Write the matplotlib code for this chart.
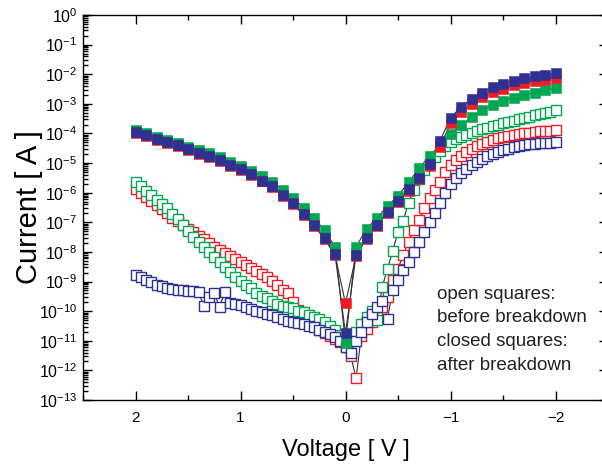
import numpy as np
import matplotlib
matplotlib.use("Agg")
import matplotlib.pyplot as plt
from matplotlib.ticker import LogLocator, MultipleLocator, NullFormatter

plt.rcParams['font.family'] = ['Liberation Sans', 'DejaVu Sans']
plt.rcParams['mathtext.fontset'] = 'custom'
plt.rcParams['mathtext.rm'] = 'Liberation Sans'

# voltages: closed squares every 0.1 V, open squares every 0.05 V (2 V -> -2 V)
v_closed = np.round(np.linspace(2, -2, 41), 2)
v_open = np.round(np.linspace(2, -2, 81), 3)

# log10(current) after breakdown (closed squares)
blue_closed = [-3.94, -4.05, -4.18, -4.29, -4.39, -4.53, -4.65, -4.76, -4.90, -5.06,
               -5.21, -5.38, -5.59, -5.79, -6.07, -6.36, -6.72, -7.09, -7.53, -8.08,
               -10.75,
               -8.11, -7.52, -7.09, -6.64, -6.27, -5.89, -5.52, -5.03, -4.25, -3.47,
               -3.10, -2.82, -2.62, -2.44, -2.33, -2.22, -2.14, -2.06, -2.03, -1.97]
red_closed = [-3.97, -4.08, -4.21, -4.32, -4.42, -4.56, -4.68, -4.79, -4.93, -5.09,
              -5.24, -5.41, -5.62, -5.82, -6.10, -6.39, -6.75, -7.12, -7.56, -8.11,
              -9.74,
              -8.13, -7.55, -7.12, -6.68, -6.32, -5.93, -5.55, -5.10, -4.45, -3.66,
              -3.28, -3.00, -2.78, -2.60, -2.49, -2.38, -2.30, -2.22, -2.18, -2.12]
green_closed = [-3.88, -3.99, -4.11, -4.22, -4.32, -4.45, -4.57, -4.67, -4.81, -4.96,
                -5.10, -5.26, -5.45, -5.64, -5.90, -6.17, -6.50, -6.85, -7.27, -7.82,
                -11.06,
                -7.83, -7.22, -6.85, -6.45, -6.10, -5.65, -5.18, -4.75, -4.40, -4.02,
                -3.72, -3.46, -3.21, -3.04, -2.89, -2.79, -2.70, -2.62, -2.53, -2.48]

# log10(current) before breakdown (open squares)
green_open = [-5.63, -5.78, -5.93, -6.08, -6.23, -6.38, -6.53, -6.73, -6.90, -7.10,
              -7.30, -7.48, -7.65, -7.83, -8.00, -8.18, -8.33, -8.50, -8.68, -8.85,
              -8.98, -9.10, -9.23, -9.38, -9.48, -9.55, -9.65, -9.76, -9.82, -9.86,
              -9.90, -9.98, -10.04, -10.12, -10.20, -10.28, -10.38, -10.50, -10.62, -10.80,
              -11.05,
              -11.00, -10.72, -10.45, -10.20, -10.00, -10.30, -9.18, -8.56, -7.97, -7.32,
              -6.95, -6.34, -5.90, -5.55, -5.25, -5.00, -4.80, -4.60, -4.43, -4.30,
              -4.20, -4.12, -4.05, -3.99, -3.92, -3.86, -3.80, -3.75, -3.70, -3.66,
              -3.61, -3.57, -3.52, -3.48, -3.43, -3.39, -3.35, -3.31, -3.26, -3.22]
red_open = [-5.86, -6.00, -6.13, -6.27, -6.42, -6.56, -6.70, -6.84, -6.97, -7.10,
            -7.22, -7.33, -7.45, -7.57, -7.70, -7.82, -7.93, -8.05, -8.15, -8.25,
            -8.33, -8.45, -8.55, -8.65, -8.76, -8.84, -8.98, -9.12, -9.28, -9.40,
            -9.70, -9.95, -10.15, -10.35, -10.50, -10.65, -10.75, -10.85, -10.95, -11.05,
            -11.20,
            -11.50, -12.27, -10.85, -10.60, -10.35, -10.10, -9.85, -9.52, -8.95, -8.56,
            -8.11, -7.66, -7.26, -6.93, -6.53, -6.19, -5.91, -5.63, -5.30, -5.08,
            -4.90, -4.75, -4.63, -4.52, -4.43, -4.35, -4.28, -4.22, -4.17, -4.12,
            -4.08, -4.05, -4.02, -3.99, -3.97, -3.95, -3.93, -3.91, -3.90, -3.89]
blue_open = [-8.78, -8.86, -8.95, -9.03, -9.10, -9.16, -9.21, -9.24, -9.27, -9.29,
             -9.31, -9.33, -9.35, -9.82, -9.52, -9.40, -9.85, -9.37, -9.72, -9.76,
             -9.80, -9.86, -9.93, -9.98, -10.03, -10.08, -10.14, -10.20, -10.27, -10.32,
             -10.36, -10.40, -10.44, -10.49, -10.55, -10.62, -10.70, -10.78, -10.86, -11.00,
             -11.20,
             -11.40, -11.00, -10.70, -10.38, -10.10, -9.86, -9.65, -10.25, -9.29, -8.95,
             -8.61, -8.33, -8.00, -7.66, -7.32, -7.00, -6.68, -6.36, -6.02, -5.72,
             -5.52, -5.35, -5.20, -5.07, -4.95, -4.85, -4.76, -4.68, -4.62, -4.56,
             -4.51, -4.47, -4.43, -4.40, -4.37, -4.35, -4.33, -4.32, -4.31, -4.30]

RED = '#ed1c24'
GREEN = '#00a651'
BLUE = '#2e3192'
LINE = '#333333'

fig = plt.figure(figsize=(6.02, 4.66), dpi=100)
# right spine sits just past the image edge, as in the cropped original
ax = fig.add_axes([83 / 602, 66 / 466, 525 / 602, 385 / 466])

open_series = [(red_open, RED), (green_open, GREEN), (blue_open, BLUE)]
closed_series = [(green_closed, GREEN), (red_closed, RED), (blue_closed, BLUE)]

# connecting lines underneath all symbols
for vals, _ in open_series:
    ax.plot(v_open, 10.0 ** np.array(vals), color=LINE, lw=0.8, zorder=1)
for vals, _ in closed_series:
    ax.plot(v_closed, 10.0 ** np.array(vals), color=LINE, lw=0.8, zorder=1)

z = 2
for vals, c in open_series:
    ax.plot(v_open, 10.0 ** np.array(vals), ls='none', marker='s', ms=7.2,
            mfc='white', mec=c, mew=1.0, zorder=z)
    z += 1
for vals, c in closed_series:
    ax.plot(v_closed, 10.0 ** np.array(vals), ls='none', marker='s', ms=7.4,
            mfc=c, mec=c, mew=0.4, zorder=z)
    z += 1

ax.set_yscale('log')
ax.set_xlim(2.5, -2.5)
ax.set_ylim(1e-13, 1e0)
ax.xaxis.set_major_locator(MultipleLocator(1))
ax.xaxis.set_minor_locator(MultipleLocator(0.5))
ax.yaxis.set_major_locator(LogLocator(base=10, numticks=20))
ax.yaxis.set_minor_locator(LogLocator(base=10, subs=np.arange(2, 10), numticks=20))
ax.yaxis.set_minor_formatter(NullFormatter())

ax.tick_params(which='both', direction='in', top=True, right=True, width=1.0)
ax.tick_params(which='major', length=6.5)
ax.tick_params(which='minor', length=3.5)
ax.tick_params(axis='x', labelsize=11, pad=8)
ax.tick_params(axis='y', labelsize=11.5, pad=4)
for s in ax.spines.values():
    s.set_linewidth(1.0)

ax.set_xlabel('Voltage [ V ]', fontsize=17, labelpad=10)
ax.set_ylabel('Current [ A ]', fontsize=21)
ax.yaxis.set_label_coords(-0.076, 0.5)

fig.text(437 / 602, 1 - 286 / 466,
         'open squares:\nbefore breakdown\nclosed squares:\nafter breakdown',
         fontsize=13.5, linespacing=1.5, va='top', ha='left', color='#222222')

fig.savefig('out.png', dpi=100)
